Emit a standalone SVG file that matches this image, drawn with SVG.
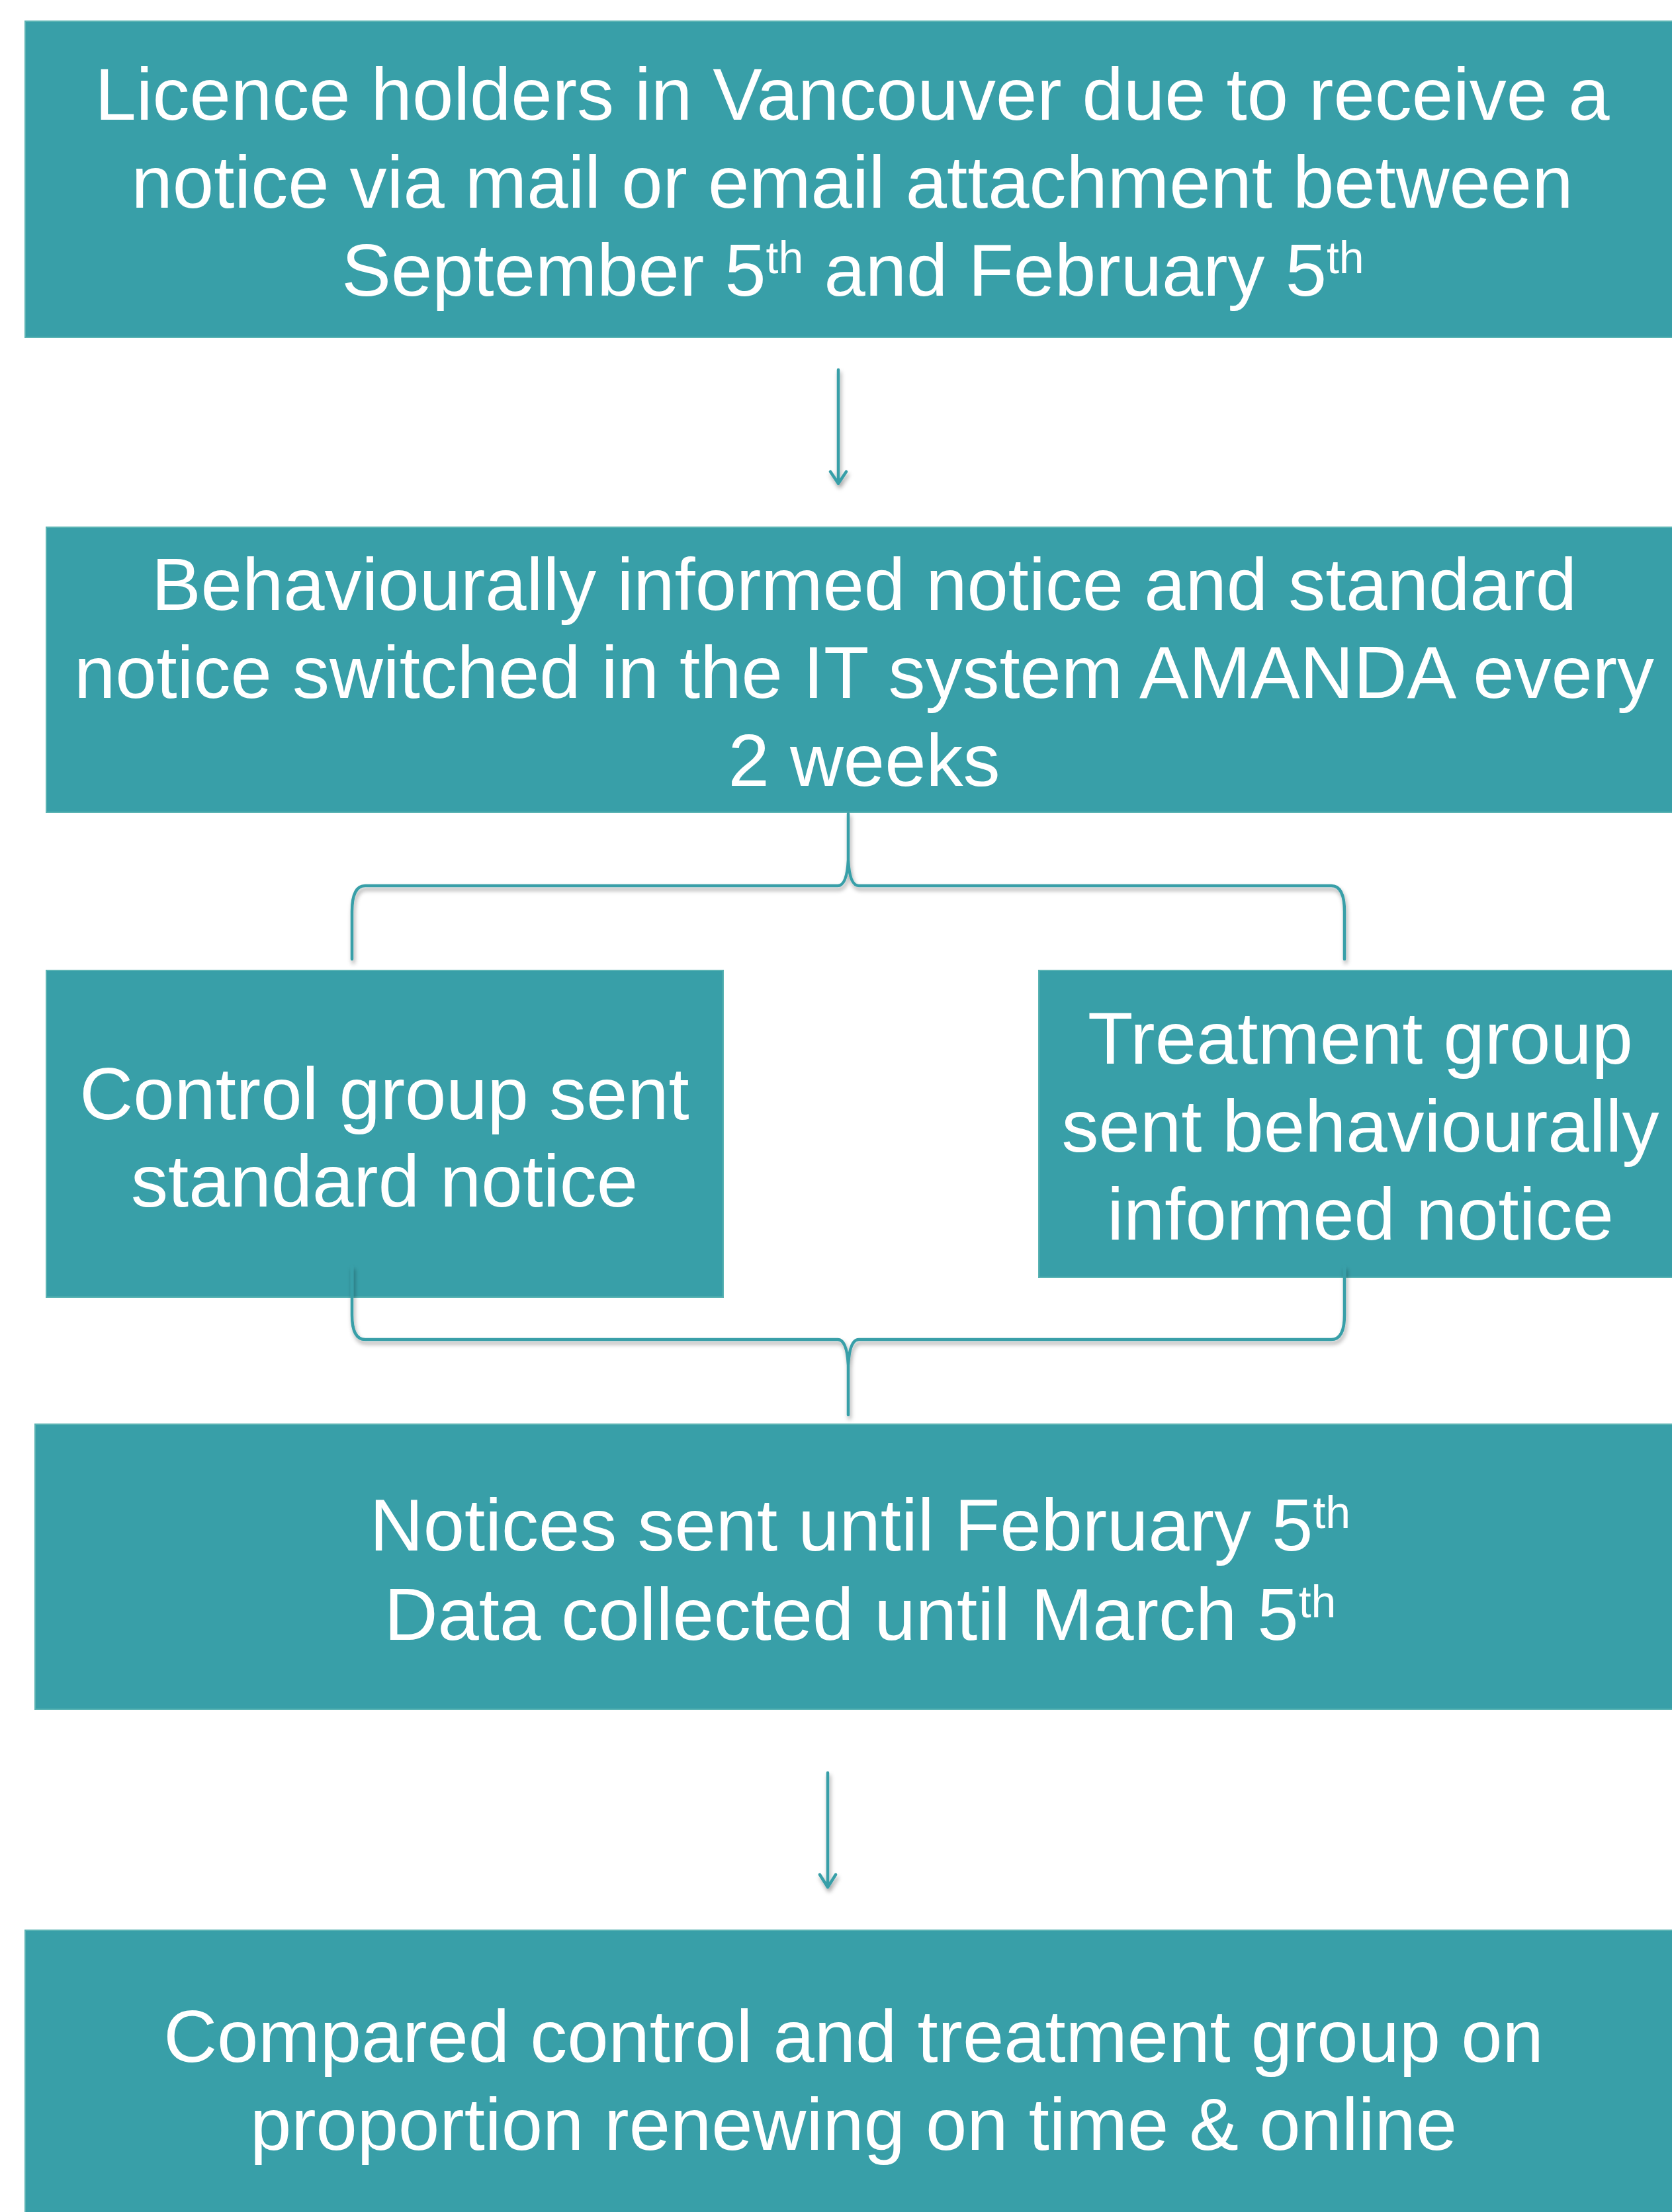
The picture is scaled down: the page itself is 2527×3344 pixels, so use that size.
<svg xmlns="http://www.w3.org/2000/svg" width="2527" height="3344" viewBox="0 0 2527 3344">
<style>
.box{fill:#389fa8;stroke:#5ab3b3;stroke-width:2}
.t{font-family:"Liberation Sans",Arial,sans-serif;font-size:112px;fill:#ffffff;text-anchor:middle}
.sup{font-size:68px}
.conn{fill:none;stroke:#389fa8;stroke-width:4.5;stroke-linecap:round;stroke-linejoin:round}
</style>
<defs>
<filter id="sh" x="-20%" y="-20%" width="140%" height="140%">
<feDropShadow dx="2" dy="5" stdDeviation="3" flood-color="#000" flood-opacity="0.35"/>
</filter>
</defs>
<rect width="2527" height="3344" fill="#ffffff"/>
<g id="node1">
<rect class="box" x="38" y="32" width="2500" height="478"/>
<text class="t" x="1288" y="181">Licence holders in Vancouver due to receive a</text>
<text class="t" x="1288" y="314">notice via mail or email attachment between</text>
<text class="t" x="1289" y="447">September 5<tspan class="sup" dy="-34">th</tspan><tspan dy="34"> and February 5</tspan><tspan class="sup" dy="-34">th</tspan></text>
</g>
<g id="node2">
<rect class="box" x="70" y="797" width="2470" height="431"/>
<text class="t" x="1306" y="922">Behaviourally informed notice and standard</text>
<text class="t" x="1306" y="1055">notice switched in the IT system AMANDA every</text>
<text class="t" x="1306" y="1188">2 weeks</text>
</g>
<g id="node3">
<rect class="box" x="70" y="1467" width="1023" height="494"/>
<text class="t" x="581" y="1692">Control group sent</text>
<text class="t" x="581" y="1824">standard notice</text>
</g>
<g id="node4">
<rect class="box" x="1570" y="1467" width="970" height="464"/>
<text class="t" x="2056" y="1608">Treatment group</text>
<text class="t" x="2056" y="1741">sent behaviourally</text>
<text class="t" x="2056" y="1874">informed notice</text>
</g>
<g id="node5">
<rect class="box" x="53" y="2153" width="2487" height="431"/>
<text class="t" x="1300" y="2344">Notices sent until February 5<tspan class="sup" dy="-34">th</tspan></text>
<text class="t" x="1300" y="2479">Data collected until March 5<tspan class="sup" dy="-34">th</tspan></text>
</g>
<g id="node6">
<rect class="box" x="38" y="2918" width="2500" height="440"/>
<text class="t" x="1290" y="3117">Compared control and treatment group on</text>
<text class="t" x="1290" y="3250">proportion renewing on time &amp; online</text>
</g>
<g id="connectors" filter="url(#sh)">
<path class="conn" d="M1267,559 L1267,731 M1255,713 L1267,731 L1279,713"/>
<path class="conn" d="M532,1450 L532,1378 Q532,1339 552,1339 L1266,1339 Q1280,1339 1282,1300 L1282,1230 M1282,1300 Q1284,1339 1298,1339 L2012,1339 Q2032,1339 2032,1378 L2032,1450"/>
<path class="conn" d="M532,1915 L532,1988 Q532,2025 552,2025 L1266,2025 Q1280,2025 1282,2064 L1282,2139 M1282,2064 Q1284,2025 1298,2025 L2012,2025 Q2032,2025 2032,1988 L2032,1915"/>
<path class="conn" d="M1251,2680 L1251,2853 M1239,2834 L1251,2853 L1263,2834"/>
</g>
</svg>
